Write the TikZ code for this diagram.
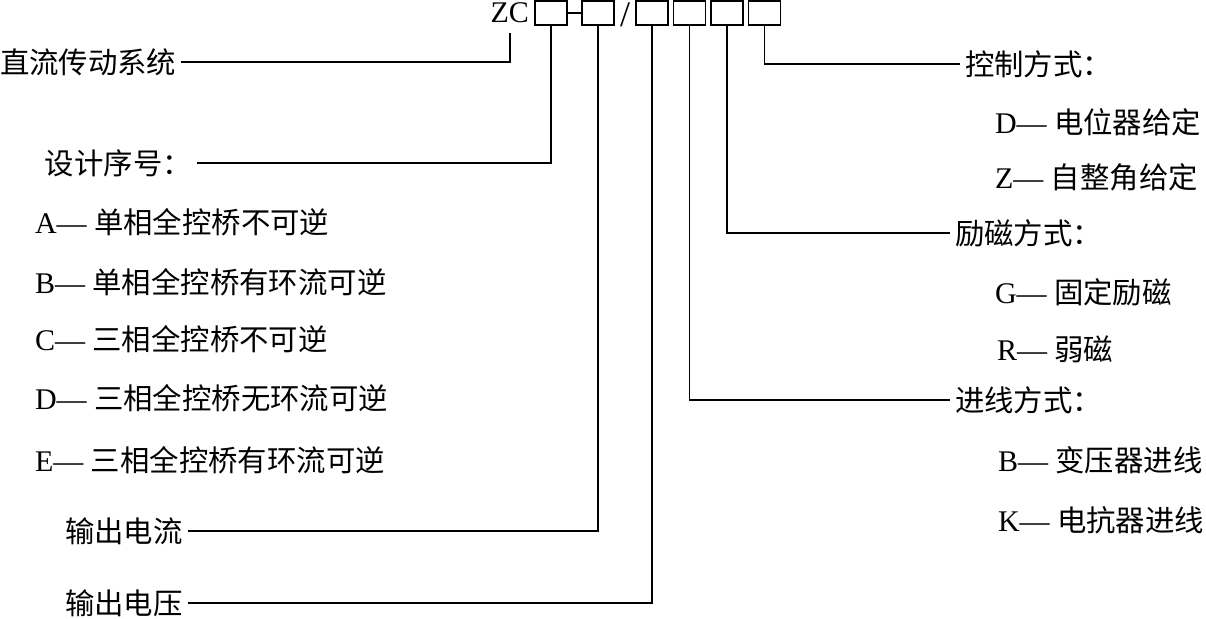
\documentclass[tikz,border=0pt]{standalone}
\usepackage{fontspec}
\setmainfont{Liberation Serif}
\newfontfamily\cjk{Noto Sans CJK SC}[Scale=0.98]
\usetikzlibrary{positioning}
\tikzset{
  codebox/.style={draw, line width=0.75pt, minimum width=16pt, minimum height=12pt, inner sep=0pt, outer sep=0pt},
  lbl/.style={inner sep=0pt, outer xsep=2.5pt, font=\fontsize{15}{18}\selectfont},
  lead/.style={line width=0.75pt},
}

\begin{document}
\begin{tikzpicture}[x=0.5pt, y=-0.5pt]
  \useasboundingbox (0,0) rectangle (1206,618);
  % model code
  \node[lbl, anchor=east, outer xsep=0pt] (zc) at (529,13) {ZC};
  \node[codebox, anchor=west] (b1) at (535,13) {};
  \node[codebox, right=7.5pt of b1] (b2) {};
  \node[codebox, right=11pt of b2] (b3) {};
  \node[codebox, right=2.75pt of b3] (b4) {};
  \node[codebox, right=2.75pt of b4] (b5) {};
  \node[codebox, right=2.75pt of b5] (b6) {};
  \draw[lead] (b1.east) -- (b2.west);
  \node[lbl, outer xsep=0pt, font=\fontsize{18}{20}\selectfont] (slash) at (625,15) {/};

  % left side
  \node[lbl, anchor=west] (sys) at (-5,62) {\cjk 直流传动系统};
  \node[lbl, anchor=west] (seq) at (40,163) {\cjk 设计序号：};
  \node[lbl, anchor=west] (sa) at (30,222) {A— \cjk 单相全控桥不可逆};
  \node[lbl, anchor=west] (sb) at (30,282) {B— \cjk 单相全控桥有环流可逆};
  \node[lbl, anchor=west] (sc) at (30,339) {C— \cjk 三相全控桥不可逆};
  \node[lbl, anchor=west] (sd) at (30,398) {D— \cjk 三相全控桥无环流可逆};
  \node[lbl, anchor=west] (se) at (30,460) {E— \cjk 三相全控桥有环流可逆};
  \node[lbl, anchor=west] (cur) at (60,531) {\cjk 输出电流};
  \node[lbl, anchor=west] (volt) at (60,603) {\cjk 输出电压};

  % right side
  \node[lbl, anchor=west] (ctrl) at (960,64) {\cjk 控制方式：};
  \node[lbl, anchor=west] (cd) at (990,122) {D— \cjk 电位器给定};
  \node[lbl, anchor=west] (cz) at (990,177) {Z— \cjk 自整角给定};
  \node[lbl, anchor=west] (exc) at (950,233) {\cjk 励磁方式：};
  \node[lbl, anchor=west] (eg) at (990,292) {G— \cjk 固定励磁};
  \node[lbl, anchor=west] (er) at (992,349) {R— \cjk 弱磁};
  \node[lbl, anchor=west] (feed) at (950,400) {\cjk 进线方式：};
  \node[lbl, anchor=west] (fb) at (993,460) {B— \cjk 变压器进线};
  \node[lbl, anchor=west] (fk) at (993,520) {K— \cjk 电抗器进线};

  % leader lines
  \draw[lead] ([yshift=-5pt]zc.south) |- (sys.east);
  \draw[lead] (b1.south) |- (seq.east);
  \draw[lead] (b2.south) |- (cur.east);
  \draw[lead] (b3.south) |- (volt.east);
  \draw[lead] (b4.south) |- (feed.west);
  \draw[lead] (b5.south) |- (exc.west);
  \draw[lead] (b6.south) |- (ctrl.west);
\end{tikzpicture}
\end{document}
